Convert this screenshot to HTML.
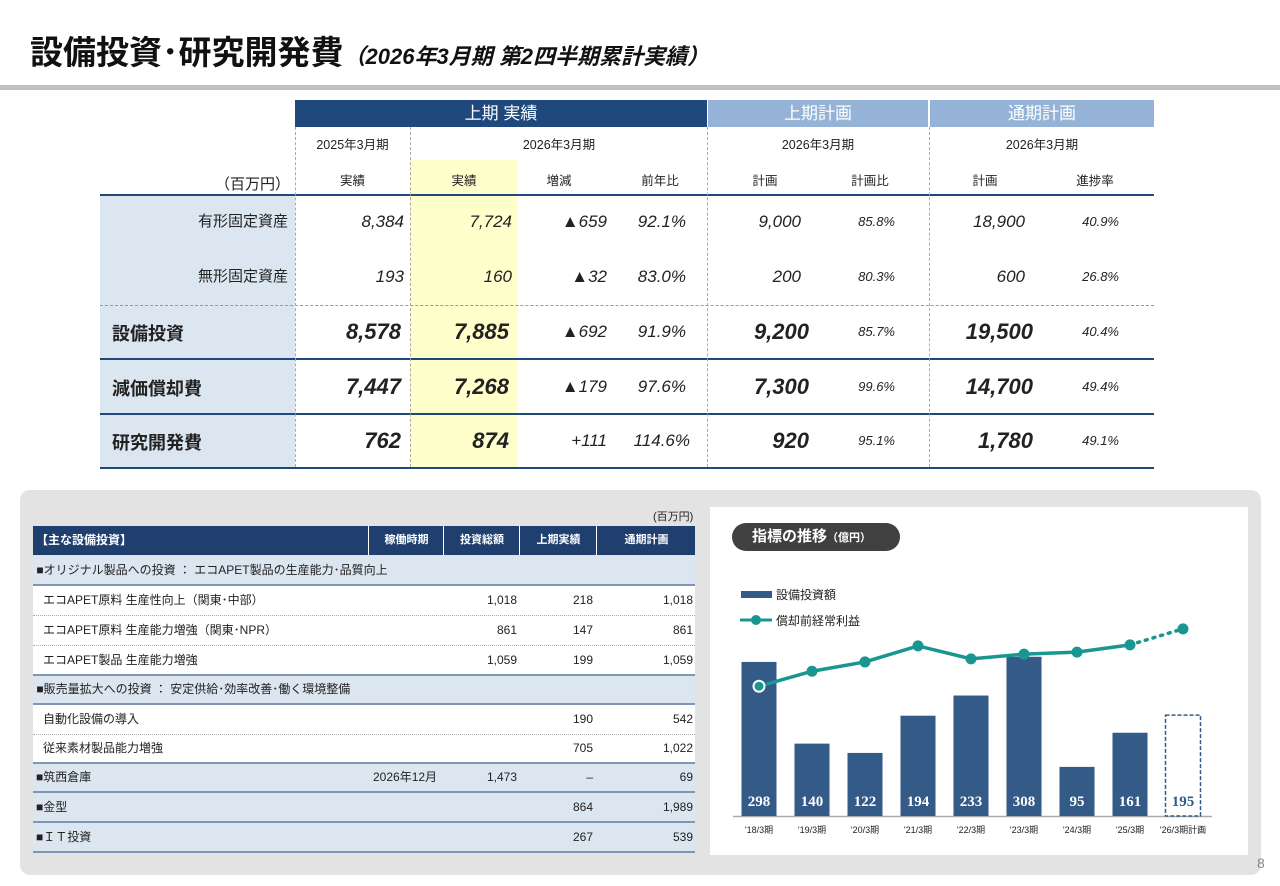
<!DOCTYPE html>
<html><head><meta charset="utf-8">
<style>
body{margin:0;width:1280px;height:886px;position:relative;background:#fff;font-family:"Liberation Sans","Noto Sans CJK JP",sans-serif;color:#222;overflow:hidden}
.a{position:absolute;white-space:nowrap}
.r{position:absolute;white-space:nowrap;text-align:right;width:200px;height:30px;line-height:30px}
.ctr{position:absolute;white-space:nowrap;text-align:center}
.v{font-style:italic;font-size:17px}
.b{font-style:italic;font-weight:bold;font-size:22px}
.s{font-style:italic;font-size:13px}
.lbl{font-size:15px}
.bl{font-size:18px;font-weight:bold}
.t2{font-size:12.5px}
</style></head><body>
<div class="a" style="left:30px;top:26px;font-size:33px;font-weight:bold;color:#111">設備投資･研究開発費<span style="font-size:22px;font-style:italic">（2026年3月期 第2四半期累計実績）</span></div>
<div class="a" style="left:0;top:85px;width:1280px;height:5px;background:#c0c0c0"></div>

<!-- top table -->
<div>
<div class="a" style="left:100px;top:196px;width:195px;height:272px;background:#dce6f1"></div>
<div class="a" style="left:410px;top:160px;width:108px;height:308px;background:#ffffcc"></div>
<div class="ctr" style="left:295px;top:100px;width:412px;height:27px;line-height:27px;background:#1f497d;color:#fff;font-size:17px">上期 実績</div>
<div class="ctr" style="left:708px;top:100px;width:220px;height:27px;line-height:27px;background:#95b3d7;color:#fff;font-size:17px">上期計画</div>
<div class="ctr" style="left:930px;top:100px;width:224px;height:27px;line-height:27px;background:#95b3d7;color:#fff;font-size:17px">通期計画</div>
<div class="ctr t2" style="left:295px;top:134px;width:115px">2025年3月期</div>
<div class="ctr t2" style="left:410px;top:134px;width:298px">2026年3月期</div>
<div class="ctr t2" style="left:708px;top:134px;width:220px">2026年3月期</div>
<div class="ctr t2" style="left:930px;top:134px;width:224px">2026年3月期</div>
<div class="a" style="left:215px;top:173px;font-size:15px">（百万円）</div>
<div class="ctr t2" style="left:295px;top:170px;width:115px">実績</div>
<div class="ctr t2" style="left:410px;top:170px;width:108px">実績</div>
<div class="ctr t2" style="left:518px;top:170px;width:82px">増減</div>
<div class="ctr t2" style="left:620px;top:170px;width:80px">前年比</div>
<div class="ctr t2" style="left:730px;top:170px;width:70px">計画</div>
<div class="ctr t2" style="left:835px;top:170px;width:70px">計画比</div>
<div class="ctr t2" style="left:950px;top:170px;width:70px">計画</div>
<div class="ctr t2" style="left:1060px;top:170px;width:70px">進捗率</div>
<!-- lines -->
<div class="a" style="left:100px;top:194px;width:1054px;height:2px;background:#1f497d"></div>
<div class="a" style="left:100px;top:305px;width:1054px;border-top:1px dashed #999"></div>
<div class="a" style="left:100px;top:358px;width:1054px;height:2px;background:#1f497d"></div>
<div class="a" style="left:100px;top:413px;width:1054px;height:2px;background:#1f497d"></div>
<div class="a" style="left:100px;top:467px;width:1054px;height:2px;background:#1f497d"></div>
<div class="a" style="left:295px;top:127px;height:340px;border-left:1px dashed #aaa"></div>
<div class="a" style="left:410px;top:127px;height:340px;border-left:1px dashed #aaa"></div>
<div class="a" style="left:707px;top:127px;height:340px;border-left:1px dashed #aaa"></div>
<div class="a" style="left:929px;top:127px;height:340px;border-left:1px dashed #aaa"></div>
<!-- row 1 -->
<div class="r lbl" style="left:88px;top:207px">有形固定資産</div>
<div class="r v" style="left:204px;top:207px">8,384</div>
<div class="r v" style="left:312px;top:207px">7,724</div>
<div class="r v" style="left:407px;top:207px">▲659</div>
<div class="r v" style="left:486px;top:207px">92.1%</div>
<div class="r v" style="left:601px;top:207px">9,000</div>
<div class="r s" style="left:695px;top:207px">85.8%</div>
<div class="r v" style="left:825px;top:207px">18,900</div>
<div class="r s" style="left:919px;top:207px">40.9%</div>
<!-- row 2 -->
<div class="r lbl" style="left:88px;top:262px">無形固定資産</div>
<div class="r v" style="left:204px;top:262px">193</div>
<div class="r v" style="left:312px;top:262px">160</div>
<div class="r v" style="left:407px;top:262px">▲32</div>
<div class="r v" style="left:486px;top:262px">83.0%</div>
<div class="r v" style="left:601px;top:262px">200</div>
<div class="r s" style="left:695px;top:262px">80.3%</div>
<div class="r v" style="left:825px;top:262px">600</div>
<div class="r s" style="left:919px;top:262px">26.8%</div>
<!-- row 3 -->
<div class="a bl" style="left:112px;top:320px">設備投資</div>
<div class="r b" style="left:201px;top:317px">8,578</div>
<div class="r b" style="left:309px;top:317px">7,885</div>
<div class="r v" style="left:407px;top:317px">▲692</div>
<div class="r v" style="left:486px;top:317px">91.9%</div>
<div class="r b" style="left:609px;top:317px">9,200</div>
<div class="r s" style="left:695px;top:317px">85.7%</div>
<div class="r b" style="left:833px;top:317px">19,500</div>
<div class="r s" style="left:919px;top:317px">40.4%</div>
<!-- row 4 -->
<div class="a bl" style="left:112px;top:375px">減価償却費</div>
<div class="r b" style="left:201px;top:372px">7,447</div>
<div class="r b" style="left:309px;top:372px">7,268</div>
<div class="r v" style="left:407px;top:372px">▲179</div>
<div class="r v" style="left:486px;top:372px">97.6%</div>
<div class="r b" style="left:609px;top:372px">7,300</div>
<div class="r s" style="left:695px;top:372px">99.6%</div>
<div class="r b" style="left:833px;top:372px">14,700</div>
<div class="r s" style="left:919px;top:372px">49.4%</div>
<!-- row 5 -->
<div class="a bl" style="left:112px;top:429px">研究開発費</div>
<div class="r b" style="left:201px;top:426px">762</div>
<div class="r b" style="left:309px;top:426px">874</div>
<div class="r v" style="left:407px;top:426px">+111</div>
<div class="r v" style="left:490px;top:426px">114.6%</div>
<div class="r b" style="left:609px;top:426px">920</div>
<div class="r s" style="left:695px;top:426px">95.1%</div>
<div class="r b" style="left:833px;top:426px">1,780</div>
<div class="r s" style="left:919px;top:426px">49.1%</div>
</div>

<!-- bottom panel -->
<div class="a" style="left:20px;top:490px;width:1241px;height:385px;background:#e3e3e3;border-radius:10px"></div>
<div class="a" style="left:33px;top:508px;width:662px;height:345px;font-size:12px">
  <div class="a" style="left:620px;top:0;font-size:11px">(百万円)</div>
  <div class="a" style="left:0;top:18px;width:662px;height:29px;background:#1f3f6e;color:#fff;font-weight:bold;line-height:29px">
    <span class="a" style="left:3px">【主な設備投資】</span>
    <span class="ctr" style="left:335px;width:75px;border-left:1px solid #fff;font-size:11px">稼働時期</span>
    <span class="ctr" style="left:410px;width:76px;border-left:1px solid #fff;font-size:11px">投資総額</span>
    <span class="ctr" style="left:486px;width:77px;border-left:1px solid #fff;font-size:11px">上期実績</span>
    <span class="ctr" style="left:563px;width:99px;border-left:1px solid #fff;font-size:11px">通期計画</span>
  </div>
  <div class="a" style="left:0;top:48px;width:662px;height:28px;line-height:28px;background:#dce6f1;border-bottom:2px solid #8096b5">&nbsp;■オリジナル製品への投資 ： エコAPET製品の生産能力･品質向上</div>
  <div class="a" style="left:0;top:78px;width:662px;height:29px;line-height:29px;background:#fff;border-bottom:1px dotted #aaa"><span class="a" style="left:10px">エコAPET原料 生産性向上（関東･中部）</span><span class="a" style="right:178px">1,018</span><span class="a" style="right:102px">218</span><span class="a" style="right:2px">1,018</span></div>
  <div class="a" style="left:0;top:108px;width:662px;height:29px;line-height:29px;background:#fff;border-bottom:1px dotted #aaa"><span class="a" style="left:10px">エコAPET原料 生産能力増強（関東･NPR）</span><span class="a" style="right:178px">861</span><span class="a" style="right:102px">147</span><span class="a" style="right:2px">861</span></div>
  <div class="a" style="left:0;top:138px;width:662px;height:28px;line-height:28px;background:#fff;border-bottom:2px solid #8096b5"><span class="a" style="left:10px">エコAPET製品 生産能力増強</span><span class="a" style="right:178px">1,059</span><span class="a" style="right:102px">199</span><span class="a" style="right:2px">1,059</span></div>
  <div class="a" style="left:0;top:168px;width:662px;height:27px;line-height:27px;background:#dce6f1;border-bottom:2px solid #8096b5">&nbsp;■販売量拡大への投資 ： 安定供給･効率改善･働く環境整備</div>
  <div class="a" style="left:0;top:197px;width:662px;height:29px;line-height:29px;background:#fff;border-bottom:1px dotted #aaa"><span class="a" style="left:10px">自動化設備の導入</span><span class="a" style="right:102px">190</span><span class="a" style="right:2px">542</span></div>
  <div class="a" style="left:0;top:227px;width:662px;height:27px;line-height:27px;background:#fff;border-bottom:2px solid #8096b5"><span class="a" style="left:10px">従来素材製品能力増強</span><span class="a" style="right:102px">705</span><span class="a" style="right:2px">1,022</span></div>
  <div class="a" style="left:0;top:256px;width:662px;height:27px;line-height:27px;background:#dce6f1;border-bottom:2px solid #8096b5"><span class="a" style="left:3px">■筑西倉庫</span><span class="a" style="left:340px">2026年12月</span><span class="a" style="right:178px">1,473</span><span class="a" style="right:102px">–</span><span class="a" style="right:2px">69</span></div>
  <div class="a" style="left:0;top:285px;width:662px;height:28px;line-height:28px;background:#dce6f1;border-bottom:2px solid #8096b5"><span class="a" style="left:3px">■金型</span><span class="a" style="right:102px">864</span><span class="a" style="right:2px">1,989</span></div>
  <div class="a" style="left:0;top:315px;width:662px;height:28px;line-height:28px;background:#dce6f1;border-bottom:2px solid #8096b5"><span class="a" style="left:3px">■ＩＴ投資</span><span class="a" style="right:102px">267</span><span class="a" style="right:2px">539</span></div>
</div>

<div class="a" style="left:710px;top:507px;width:538px;height:348px;background:#fff"></div>
<div class="a" style="left:732px;top:523px;width:168px;height:28px;line-height:28px;border-radius:14px;background:#404040;color:#fff;font-size:15px;font-weight:bold;padding-left:0;text-indent:20px">指標の推移<span style="font-size:11px">（億円）</span></div>
<svg class="a" id="chart" style="left:0;top:0" width="1280" height="886"></svg>
<div class="a" style="left:1257px;top:855px;font-size:14px;color:#888">8</div>

<script>
const categories=["'18/3期","'19/3期","'20/3期","'21/3期","'22/3期","'23/3期","'24/3期","'25/3期","'26/3期計画"];
const capex=[298,140,122,194,233,308,95,161,195];
const profit=[251,280,298,329,304,313,317,331,362];
const isPlan=[false,false,false,false,false,false,false,false,true];
const NS="http://www.w3.org/2000/svg";
const svg=document.getElementById('chart');
const base=816, k=0.517, x0=759, step=53, bw=35;
const X=i=>x0+i*step, Y=v=>base-v*k;
function mk(t,a){const e=document.createElementNS(NS,t);for(const n in a)e.setAttribute(n,a[n]);svg.appendChild(e);return e;}
const ax=mk('line',{x1:733,x2:1212,y1:base+0.5,y2:base+0.5,stroke:'#aaa','stroke-width':1.5});


capex.forEach((v,i)=>{
  const r=mk('rect',{x:X(i)-bw/2,y:Y(v),width:bw,height:v*k,fill:isPlan[i]?'#fff':'#345a87',stroke:isPlan[i]?'#345a87':'none','stroke-dasharray':'4,2','stroke-width':1.5});
  
  
  const t=mk('text',{x:X(i),y:base-10,'text-anchor':'middle','font-size':15,'font-weight':'bold','font-family':'Liberation Serif, serif',fill:isPlan[i]?'#345a87':'#fff'});
  t.textContent=v;
  
  
  const c=mk('text',{x:X(i),y:base+17,'text-anchor':'middle','font-size':9,fill:'#222','font-family':'Liberation Sans, Noto Sans CJK JP, sans-serif'});
  c.textContent=categories[i];
  
  
});
const Y2=v=>base-v*k;
let d='';
profit.forEach((v,i)=>{if(!isPlan[i])d+=(d?'L':'M')+X(i)+','+Y2(v);});
const ln=mk('path',{d:d,fill:'none',stroke:'#1a9690','stroke-width':3.5});


const n=profit.length;
const dl=mk('line',{x1:X(n-2),y1:Y2(profit[n-2]),x2:X(n-1),y2:Y2(profit[n-1]),stroke:'#1a9690','stroke-width':3.5,'stroke-dasharray':'2,6','stroke-linecap':'round'});


profit.forEach((v,i)=>{
  const p=mk('circle',{cx:X(i),cy:Y2(v),r:5.5,fill:'#1a9690',stroke:i==0?'#fff':'none','stroke-width':2});
  
  
});
const lg1=mk('rect',{x:741,y:591,width:31,height:7,fill:'#345a87'});


const lt1=mk('text',{x:776,y:599,'font-size':12,fill:'#222','font-family':'Liberation Sans, Noto Sans CJK JP, sans-serif'});
lt1.textContent='設備投資額';


const lg2=mk('line',{x1:740,x2:772,y1:620,y2:620,stroke:'#1a9690','stroke-width':3});


const lg3=mk('circle',{cx:756,cy:620,r:5,fill:'#1a9690'});


const lt2=mk('text',{x:776,y:625,'font-size':12,fill:'#222','font-family':'Liberation Sans, Noto Sans CJK JP, sans-serif'});
lt2.textContent='償却前経常利益';


</script>
</body></html>
